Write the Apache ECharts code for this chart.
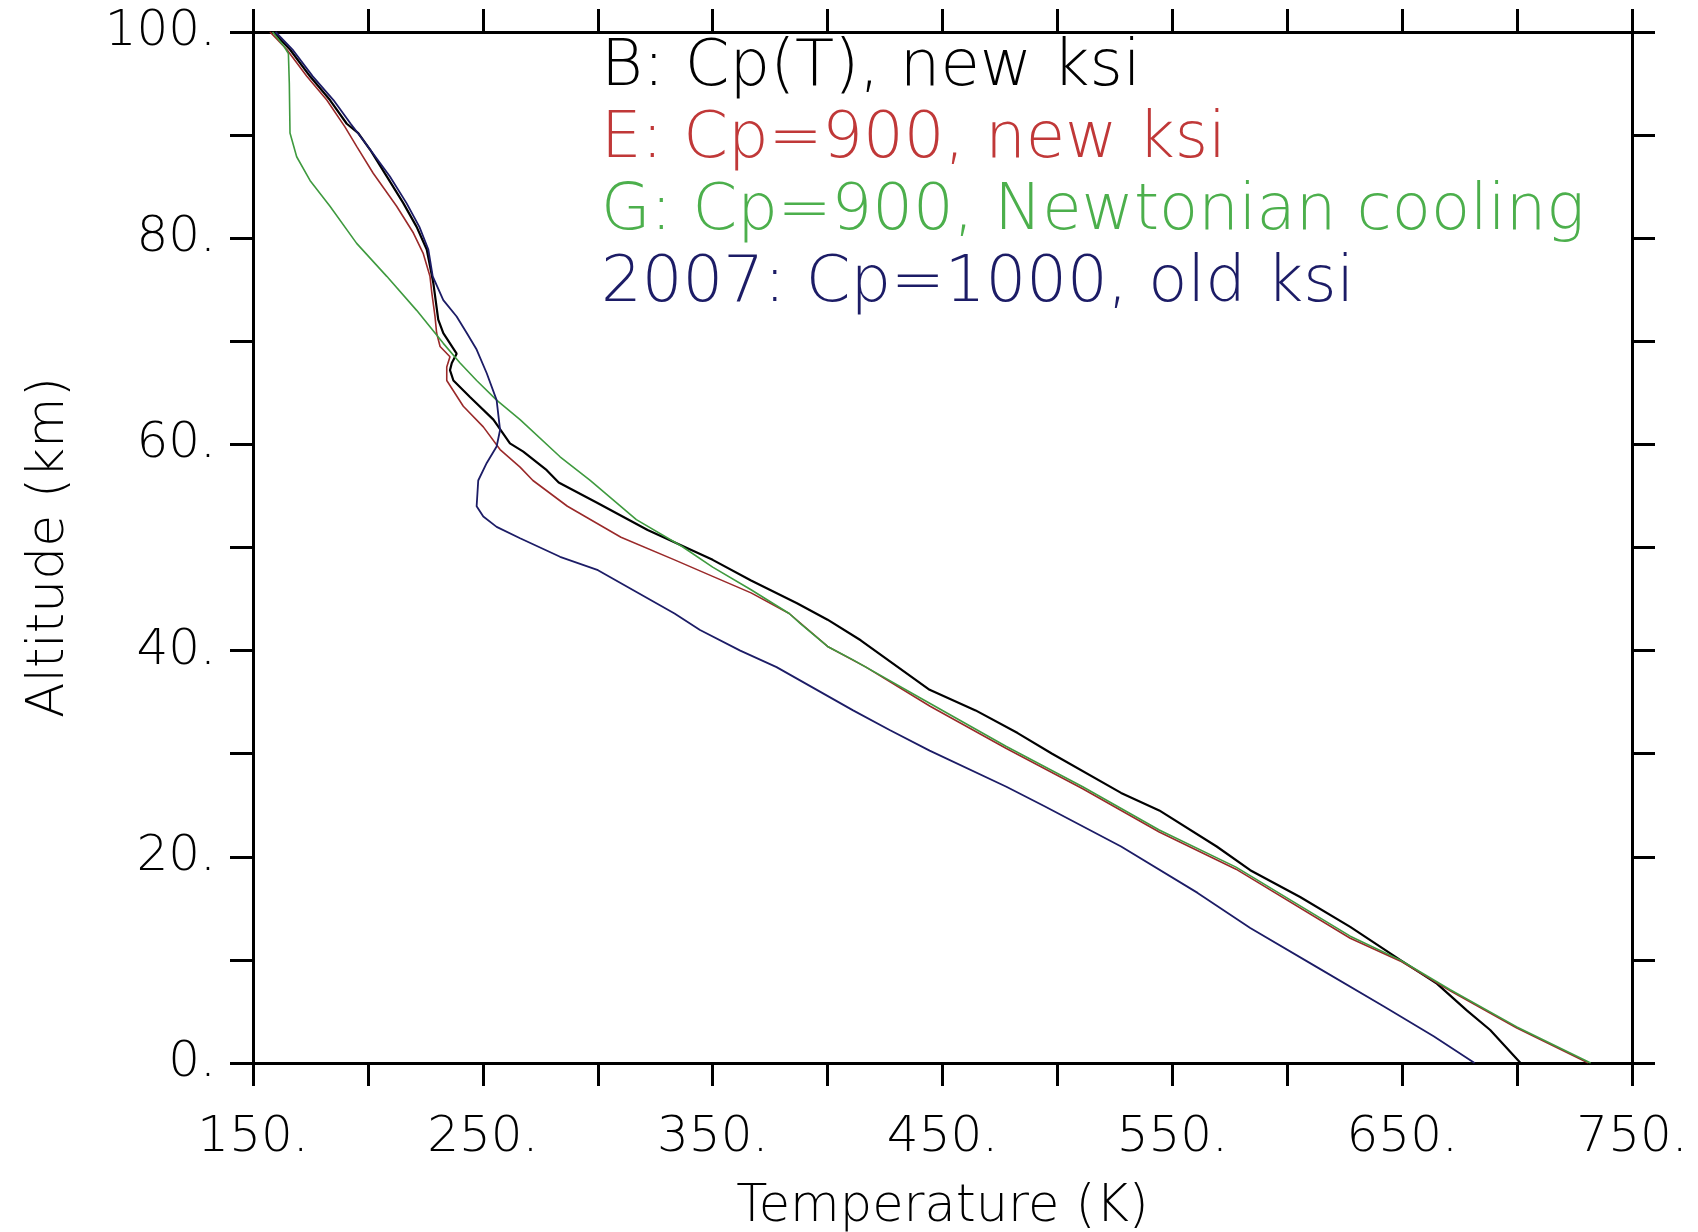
<!DOCTYPE html>
<html>
<head>
<meta charset="utf-8">
<title>Temperature profiles</title>
<script src="https://cdn.jsdelivr.net/npm/echarts@6/dist/echarts.min.js"></script>
<style>
    html, body {margin: 0; padding: 0; background: #fff;}
    #chart {width: 1698px; height: 1232px;}
</style>
</head>
<body>
<div id="chart"></div>
<script>
// axis ticks
const tempTicks = {min: 150, max: 750, step: 50};
const altTicks = {min: 0, max: 100, step: 10};

// B: Cp(T), new ksi
const altB = [100, 98.3, 95.7, 93.4, 91.1, 90.2, 88.6, 86.0, 83.4, 81.1, 78.9, 75.6, 72.1, 70.8, 68.8, 67.9, 67.2, 66.2, 64.6, 62.4, 60.1, 59.3, 57.5, 56.3, 54.3, 51.7, 48.8, 46.8, 44.6, 43.0, 41.0, 36.2, 34.2, 32.0, 30.0, 26.2, 24.5, 21.0, 18.7, 16.1, 13.2, 10.0, 7.7, 5.1, 3.2, 0];
const tempB = [158.8, 166.1, 174.8, 183.5, 190.8, 195.8, 200.9, 208.2, 215.4, 221.2, 225.6, 228.5, 230.6, 232.8, 238.6, 236.5, 235.7, 237.2, 244.4, 254.6, 261.8, 267.6, 277.8, 283.0, 300.1, 321.7, 350.0, 366.7, 386.7, 400.0, 414.4, 444.4, 464.4, 482.7, 497.7, 527.7, 544.3, 569.3, 583.9, 605.6, 627.4, 649.1, 665.1, 678.1, 688.3, 701.5];

// E: Cp=900, new ksi
const altE = [100, 98.3, 95.7, 93.4, 90.8, 88.9, 86.3, 83.1, 80.5, 78.5, 76.3, 74.7, 72.4, 70.8, 69.5, 68.5, 67.5, 66.2, 63.7, 61.7, 59.5, 57.8, 56.5, 54.0, 51.0, 48.8, 47.2, 45.6, 43.6, 40.4, 38.4, 34.6, 30.5, 26.6, 22.4, 18.8, 12.1, 9.9, 7.0, 3.4, 0];
const tempE = [157.4, 164.7, 173.4, 182.1, 190.0, 195.1, 202.3, 212.5, 219.8, 224.1, 227.0, 227.8, 229.2, 229.9, 231.4, 235.7, 234.3, 234.3, 241.5, 250.2, 257.5, 266.2, 271.8, 286.8, 310.1, 333.4, 350.0, 366.7, 383.3, 400.0, 416.7, 444.6, 477.8, 511.0, 544.3, 577.7, 627.4, 649.1, 670.9, 699.9, 731.0];

// G: Cp=900, Newtonian cooling
const altG = [100, 98.7, 97.9, 95.0, 90.2, 87.9, 85.6, 83.1, 79.5, 76.3, 73.0, 69.8, 67.9, 66.2, 64.3, 62.4, 58.8, 56.5, 52.7, 50.1, 48.1, 45.9, 43.6, 42.6, 40.4, 39.1, 34.9, 30.7, 26.8, 22.6, 19.0, 12.3, 10.0, 7.1, 3.5, 0];
const tempG = [158.5, 163.2, 165.4, 165.8, 166.1, 169.0, 174.8, 183.5, 195.1, 208.2, 221.2, 232.8, 240.1, 247.3, 256.0, 266.2, 283.6, 296.7, 316.8, 336.7, 350.0, 366.7, 383.3, 388.3, 400.0, 411.1, 444.4, 477.8, 511.0, 544.3, 577.7, 627.4, 649.1, 670.9, 699.9, 732.0];

// 2007: Cp=1000, old ksi
const alt2007 = [100, 98.3, 95.7, 93.4, 91.1, 89.5, 86.0, 83.4, 81.1, 78.9, 76.3, 74.0, 72.4, 70.8, 69.2, 66.9, 64.3, 61.4, 59.8, 58.2, 56.5, 54.0, 53.0, 52.0, 50.9, 49.1, 47.8, 43.6, 42.0, 40.0, 38.4, 34.2, 32.3, 30.3, 26.8, 24.9, 21.0, 16.5, 13.1, 9.3, 5.5, 2.6, 0];
const temp2007 = [159.8, 167.2, 176.0, 185.0, 192.5, 198.0, 209.5, 216.8, 222.4, 226.3, 228.2, 232.8, 238.6, 243.0, 247.3, 251.7, 256.0, 257.5, 256.0, 251.7, 248.0, 247.3, 250.2, 256.0, 266.2, 283.6, 300.1, 333.4, 344.5, 362.0, 377.8, 411.1, 427.0, 444.4, 477.8, 494.4, 527.7, 561.0, 583.9, 612.9, 641.9, 663.7, 681.5];

const profiles = [
    {name: 'B: Cp(T), new ksi', alt: altB, temp: tempB, color: '#000000', text: '#000000', width: 2.2},
    {name: 'E: Cp=900, new ksi', alt: altE, temp: tempE, color: '#9a2a2a', text: '#c03838', width: 1.6},
    {name: 'G: Cp=900, Newtonian cooling', alt: altG, temp: tempG, color: '#3f9a3f', text: '#4caf4c', width: 1.6},
    {name: '2007: Cp=1000, old ksi', alt: alt2007, temp: temp2007, color: '#1c1c66', text: '#1c1c66', width: 1.8}
];

const FONT = '"DejaVu Sans", sans-serif';

function axisBase(ticks, showLabel, formatter) {
    return {
        type: 'value',
        min: ticks.min,
        max: ticks.max,
        interval: ticks.step,
        axisLine: {show: true, onZero: false, lineStyle: {color: '#000', width: 3}},
        axisTick: {show: true, inside: false, length: 23, lineStyle: {color: '#000', width: 3}},
        splitLine: {show: false},
        axisLabel: {
            show: showLabel,
            formatter: formatter,
            color: '#000',
            fontFamily: FONT,
            fontWeight: 200,
            fontSize: 50,
            margin: 50
        }
    };
}

const chart = echarts.init(document.getElementById('chart'), null, {renderer: 'canvas'});

const xBottom = Object.assign(axisBase(tempTicks, true, v => ((v - 150) % 100 === 0 ? v + '.' : '')), {
    position: 'bottom',
    name: 'Temperature (K)',
    nameLocation: 'middle',
    nameGap: 119,
    nameTextStyle: {color: '#000', fontFamily: FONT, fontWeight: 200, fontSize: 51}
});
const xTop = Object.assign(axisBase(tempTicks, false), {position: 'top'});
const yLeft = Object.assign(axisBase(altTicks, true, v => (v % 20 === 0 ? v + '.' : '')), {
    position: 'left',
    name: 'Altitude (km)',
    nameLocation: 'middle',
    nameGap: 178,
    nameTextStyle: {color: '#000', fontFamily: FONT, fontWeight: 200, fontSize: 52}
});
yLeft.axisLabel.margin = 37;
const yRight = Object.assign(axisBase(altTicks, false), {position: 'right'});

chart.setOption({
    backgroundColor: '#fff',
    animation: false,
    grid: {left: 253, right: 66, top: 32, bottom: 169, containLabel: false, outerBoundsMode: 'none'},
    xAxis: [xBottom, xTop],
    yAxis: [yLeft, yRight],
    legend: {
        orient: 'vertical',
        left: 596,
        top: 32,
        padding: 0,
        itemGap: 0,
        itemWidth: 0,
        itemHeight: 0,
        icon: 'none',
        selectedMode: false,
        textStyle: {fontFamily: FONT, fontWeight: 200, fontSize: 64, lineHeight: 72},
        data: profiles.map(p => ({name: p.name, icon: 'none', textStyle: {color: p.text}}))
    },
    series: profiles.map(p => ({
        name: p.name,
        type: 'line',
        xAxisIndex: 0,
        yAxisIndex: 0,
        showSymbol: false,
        symbol: 'none',
        smooth: false,
        silent: true,
        color: p.color,
        lineStyle: {color: p.color, width: p.width},
        data: p.temp.map((t, i) => [t, p.alt[i]])
    }))
});
</script>
</body>
</html>
